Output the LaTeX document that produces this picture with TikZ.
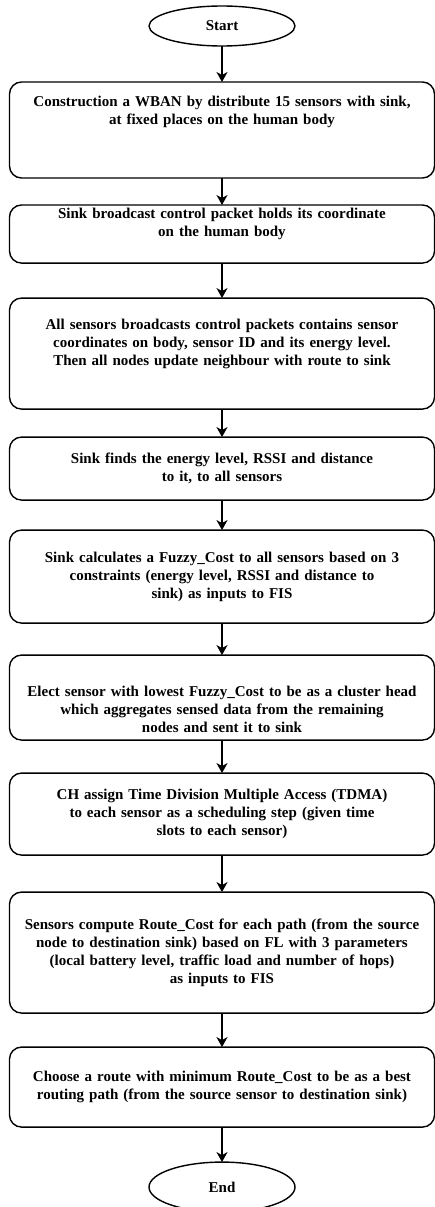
\documentclass[tikz,border=0pt]{standalone}
\usepackage{fontspec}
\setmainfont{Liberation Serif}
\usetikzlibrary{positioning}
\usetikzlibrary{shapes.geometric}
\usetikzlibrary{arrows.meta}

\begin{document}
\begin{tikzpicture}[box/.style={draw,rounded corners=12pt,line width=1.4pt,outer sep=0pt,align=center,text width=422pt,inner xsep=1.5pt,font=\fontsize{15}{18}\selectfont\bfseries},
term/.style={draw,ellipse,line width=1.4pt,outer sep=0pt,minimum width=146pt,minimum height=40pt,inner sep=0pt,font=\fontsize{15}{18}\selectfont\bfseries},
flow/.style={-{Stealth[length=10pt,width=11pt,inset=3pt]},line width=1.4pt}]
\useasboundingbox (0,0) rectangle (435pt,-1207pt);
\node[term] (start) at (222pt,-26pt) {Start};
\node[box,minimum height=96pt,text depth=57pt,below=36pt of start] (wban) {Construction a WBAN by distribute 15 sensors with sink,\\at fixed places on the human body};
\node[box,minimum height=58pt,text depth=41pt,below=27pt of wban] (sinkbc) {Sink broadcast control packet holds its coordinate\\on the human body};
\node[box,minimum height=111pt,text depth=59pt,below=35pt of sinkbc] (nbrupd) {All sensors broadcasts control packets contains sensor\\coordinates on body, sensor ID and its energy level.\\Then all nodes update neighbour with route to sink};
\node[box,minimum height=63pt,below=28pt of nbrupd] (sinkfind) {Sink finds the energy level, RSSI and distance\\to it, to all sensors};
\node[box,minimum height=93pt,below=30pt of sinkfind] (fuzzy) {Sink calculates a Fuzzy\_Cost to all sensors based on 3\\constraints (energy level, RSSI and distance to\\sink) as inputs to FIS};
\node[box,minimum height=85pt,text height=34pt,below=32pt of fuzzy] (elect) {Elect sensor with lowest Fuzzy\_Cost to be as a cluster head\\which aggregates sensed data from the remaining\\nodes and sent it to sink};
\node[box,minimum height=82pt,below=33pt of elect] (tdma) {CH assign Time Division Multiple Access (TDMA)\\to each sensor as a scheduling step (given time\\slots to each sensor)};
\node[box,minimum height=121pt,below=37pt of tdma] (routecost) {Sensors compute Route\_Cost for each path (from the source\\node to destination sink) based on FL with 3 parameters\\(local battery level, traffic load and number of hops)\\as inputs to FIS};
\node[box,minimum height=80pt,below=34pt of routecost] (choose) {Choose a route with minimum Route\_Cost to be as a best\\routing path (from the source sensor to destination sink)};
\node[term,minimum height=50pt,below=35pt of choose] (finish) {End};
\draw[flow] (start)--(wban); \draw[flow] (wban)--(sinkbc); \draw[flow] (sinkbc)--(nbrupd);
\draw[flow] (nbrupd)--(sinkfind); \draw[flow] (sinkfind)--(fuzzy); \draw[flow] (fuzzy)--(elect);
\draw[flow] (elect)--(tdma); \draw[flow] (tdma)--(routecost); \draw[flow] (routecost)--(choose);
\draw[flow] (choose)--(finish);
\end{tikzpicture}
\end{document}
